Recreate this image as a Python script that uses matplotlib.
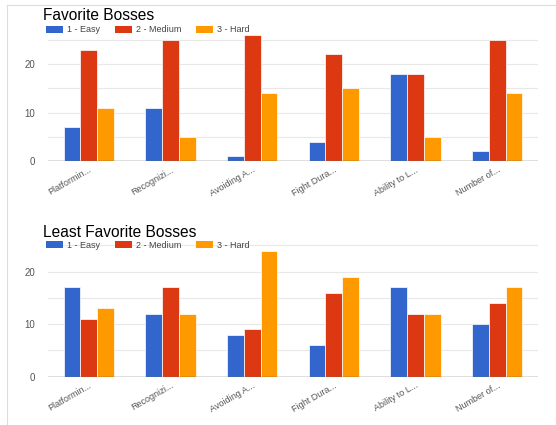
import matplotlib
matplotlib.use("Agg")
import matplotlib.pyplot as plt
from matplotlib.patches import Patch
from matplotlib.lines import Line2D
import numpy as np

plt.rcParams['font.family'] = ['Liberation Sans', 'DejaVu Sans']

categories = ["Platformin...", "Recognizi...", "Avoiding A...", "Fight Dura...", "Ability to L...", "Number of..."]
series_names = ["1 - Easy", "2 - Medium", "3 - Hard"]
colors = ["#3366cc", "#dc3912", "#ff9900"]

# Favorite Bosses
fav_easy = [7, 11, 1, 4, 18, 2]
fav_medium = [23, 25, 26, 22, 18, 25]
fav_hard = [11, 5, 14, 15, 5, 14]

# Least Favorite Bosses
least_easy = [17, 12, 8, 6, 17, 10]
least_medium = [11, 17, 9, 16, 12, 14]
least_hard = [13, 12, 24, 19, 12, 17]

fig = plt.figure(figsize=(5.56, 4.25), dpi=100)

# screenshot border lines
fig.add_artist(Line2D([7/556, 1.0], [1 - 5/425, 1 - 5/425], color="#dddddd", lw=0.8, transform=fig.transFigure))
fig.add_artist(Line2D([7/556, 7/556], [0, 1 - 5/425], color="#dddddd", lw=0.8, transform=fig.transFigure))

ax_top = fig.add_axes([0.0863, 0.6212, 0.8813, 0.2984])
ax_bot = fig.add_axes([0.0863, 0.1137, 0.8813, 0.3125])


def draw(ax, data, ymax, title, title_y, legend_y):
    x = np.arange(len(categories))
    w = 0.205
    for i, vals in enumerate(data):
        ax.bar(x + (i - 1) * w, vals, width=w, color=colors[i], edgecolor="white", linewidth=0.5, zorder=3)
    ax.set_xlim(-0.5, len(categories) - 0.5)
    ax.set_ylim(0, ymax)
    ax.set_yticks([0, 10, 20])
    ax.set_yticks([5, 15, 25], minor=True)
    ax.grid(axis="y", which="both", color="#e8e8e8", linewidth=0.8, zorder=0)
    ax.axhline(0, color="#666666", linewidth=1, zorder=4)
    for s in ax.spines.values():
        s.set_visible(False)
    ax.tick_params(axis="y", which="both", length=0, labelsize=7, labelcolor="#555555", pad=9)
    ax.tick_params(axis="x", length=0, pad=3)
    ax.set_xticks(x)
    ax.set_xticklabels(categories, rotation=30, ha="right", va="top", rotation_mode="anchor",
                       fontsize=6.5, color="#555555")
    fig.text(43/556, title_y, title, fontsize=11.2, color="#000000", va="baseline", ha="left")
    handles = [Patch(facecolor=c, edgecolor="none") for c in colors]
    ax.legend(handles, series_names, loc="center left", bbox_to_anchor=(46/556, legend_y),
              bbox_transform=fig.transFigure, ncol=3, frameon=False, fontsize=6.5,
              handlelength=1.9, handleheight=0.7, handletextpad=0.45, columnspacing=1.6,
              borderpad=0, borderaxespad=0, labelcolor="#444444")


draw(ax_top, [fav_easy, fav_medium, fav_hard], 26.2, "Favorite Bosses", 1 - 20/425, 1 - 30/425)
draw(ax_bot, [least_easy, least_medium, least_hard], 25.3, "Least Favorite Bosses", 1 - 236.7/425, 1 - 245.3/425)

fig.savefig("out.png", dpi=100)
